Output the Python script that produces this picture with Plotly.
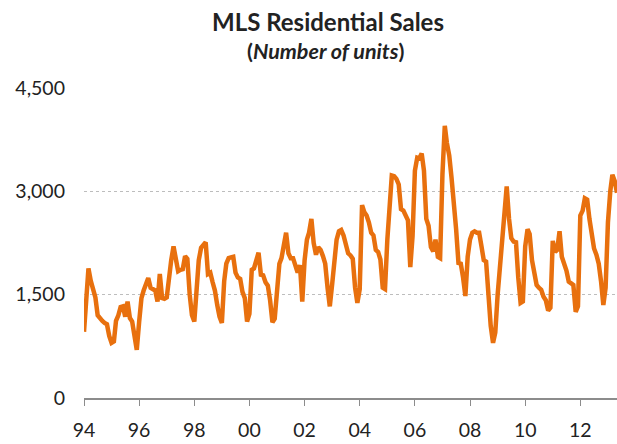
import plotly.graph_objects as go
import pandas as pd

# Monthly MLS residential sales (number of units), Jan 1994 onward
start_month = "1994-01-01"
sales_1994 = [960, 1500, 1880, 1700, 1550, 1460, 1200, 1150, 1120, 1090, 1070, 900]
sales_1995 = [800, 820, 1120, 1200, 1320, 1330, 1180, 1400, 1160, 1110, 900, 700]
sales_1996 = [1100, 1450, 1560, 1640, 1740, 1600, 1580, 1560, 1400, 1800, 1450, 1440]
sales_1997 = [1460, 1800, 2000, 2200, 2000, 1840, 1860, 1870, 2060, 2020, 1500, 1200]
sales_1998 = [1110, 1560, 2000, 2180, 2230, 2260, 1800, 1820, 1680, 1560, 1350, 1180]
sales_1999 = [1090, 1700, 1950, 2030, 2040, 2050, 1820, 1750, 1730, 1540, 1450, 1110]
sales_2000 = [1220, 1860, 1880, 2000, 2110, 1790, 1780, 1680, 1630, 1420, 1100, 1150]
sales_2001 = [1600, 1950, 2030, 2250, 2400, 2100, 2030, 2030, 1900, 1820, 1930, 1400]
sales_2002 = [2000, 2300, 2400, 2600, 2250, 2080, 2190, 2150, 2060, 1950, 1600, 1330]
sales_2003 = [1650, 2000, 2300, 2420, 2440, 2360, 2200, 2100, 2070, 2020, 1600, 1380]
sales_2004 = [1580, 2800, 2700, 2650, 2550, 2400, 2360, 2150, 2120, 2010, 1600, 1580]
sales_2005 = [2300, 2900, 3230, 3220, 3180, 3100, 2740, 2720, 2630, 2580, 1900, 2350]
sales_2006 = [3300, 3490, 3480, 3550, 3300, 2600, 2500, 2190, 2130, 2300, 2050, 2030]
sales_2007 = [3250, 3950, 3700, 3520, 3200, 2700, 2450, 1960, 1950, 1750, 1480, 2050]
sales_2008 = [2300, 2400, 2420, 2400, 2400, 2200, 2000, 1980, 1450, 1050, 800, 950]
sales_2009 = [1500, 1950, 2350, 2800, 3070, 2600, 2320, 2270, 2260, 1750, 1380, 1400]
sales_2010 = [2200, 2450, 2380, 2000, 1780, 1640, 1600, 1570, 1470, 1420, 1270, 1310]
sales_2011 = [2280, 2120, 2150, 2420, 2050, 1950, 1850, 1690, 1670, 1640, 1250, 1330]
sales_2012 = [2650, 2720, 2900, 2880, 2600, 2380, 2170, 2080, 1950, 1700, 1350, 1600]
sales_2013 = [2550, 3000, 3240, 3150, 2980]

sales = (sales_1994 + sales_1995 + sales_1996 + sales_1997 + sales_1998 + sales_1999
         + sales_2000 + sales_2001 + sales_2002 + sales_2003 + sales_2004 + sales_2005
         + sales_2006 + sales_2007 + sales_2008 + sales_2009 + sales_2010 + sales_2011
         + sales_2012 + sales_2013)
months = pd.date_range(start_month, periods=len(sales), freq="MS")

y_ticks = [0, 1500, 3000, 4500]
y_tick_labels = ["0", "1,500", "3,000", "4,500"]

title_text = "MLS Residential Sales"
subtitle_text = "(<i>Number of units</i>)"

FONT = "Lato, 'Open Sans', sans-serif"
ORANGE = "#E8700E"
TEXT = "#222222"

fig = go.Figure()
fig.add_trace(go.Scatter(
    x=months, y=sales, mode="lines",
    line=dict(color=ORANGE, width=4.5),
    hoverinfo="skip", showlegend=False,
))

PW, PH = 533, 310
fig.update_layout(
    width=617, height=444,
    margin=dict(l=84, r=0, t=88, b=46, autoexpand=False),
    paper_bgcolor="white", plot_bgcolor="white",
    font=dict(family=FONT, color=TEXT, size=19.5),
    showlegend=False,
    annotations=[
        dict(text="<b>" + title_text + "</b>", xref="paper", yref="paper",
             x=(328 - 84) / PW, y=1 + (88 - 21) / PH, xanchor="center", yanchor="middle",
             showarrow=False, font=dict(size=24, family=FONT, color=TEXT)),
        dict(text="<b>" + subtitle_text + "</b>", xref="paper", yref="paper",
             x=(325 - 84) / PW, y=1 + (88 - 51) / PH, xanchor="center", yanchor="middle",
             showarrow=False, font=dict(size=21.5, family=FONT, color=TEXT)),
    ],
)

fig.update_xaxes(
    type="date", automargin=False,
    range=[months[0], months[-1]],
    tick0="1994-01-01", dtick="M24", tickformat="%y",
    showgrid=False, zeroline=False,
    showline=True, linecolor="#8C8C8C", linewidth=1.5,
    ticks="outside", ticklen=6, tickcolor="#8C8C8C", tickwidth=1,
    ticklabelstandoff=8,
    tickfont=dict(size=19.5, family=FONT, color=TEXT),
)
fig.update_yaxes(
    automargin=False,
    range=[0, 4500],
    tickvals=y_ticks, ticktext=y_tick_labels,
    showgrid=True, gridcolor="#BDBDBD", griddash="dot", gridwidth=1,
    zeroline=False, showline=False, ticks="",
    ticklabelstandoff=18,
    tickfont=dict(size=19.5, family=FONT, color=TEXT),
)

fig.write_html("out.html", config={"displayModeBar": False},
               post_script="document.body.style.margin='0';")
